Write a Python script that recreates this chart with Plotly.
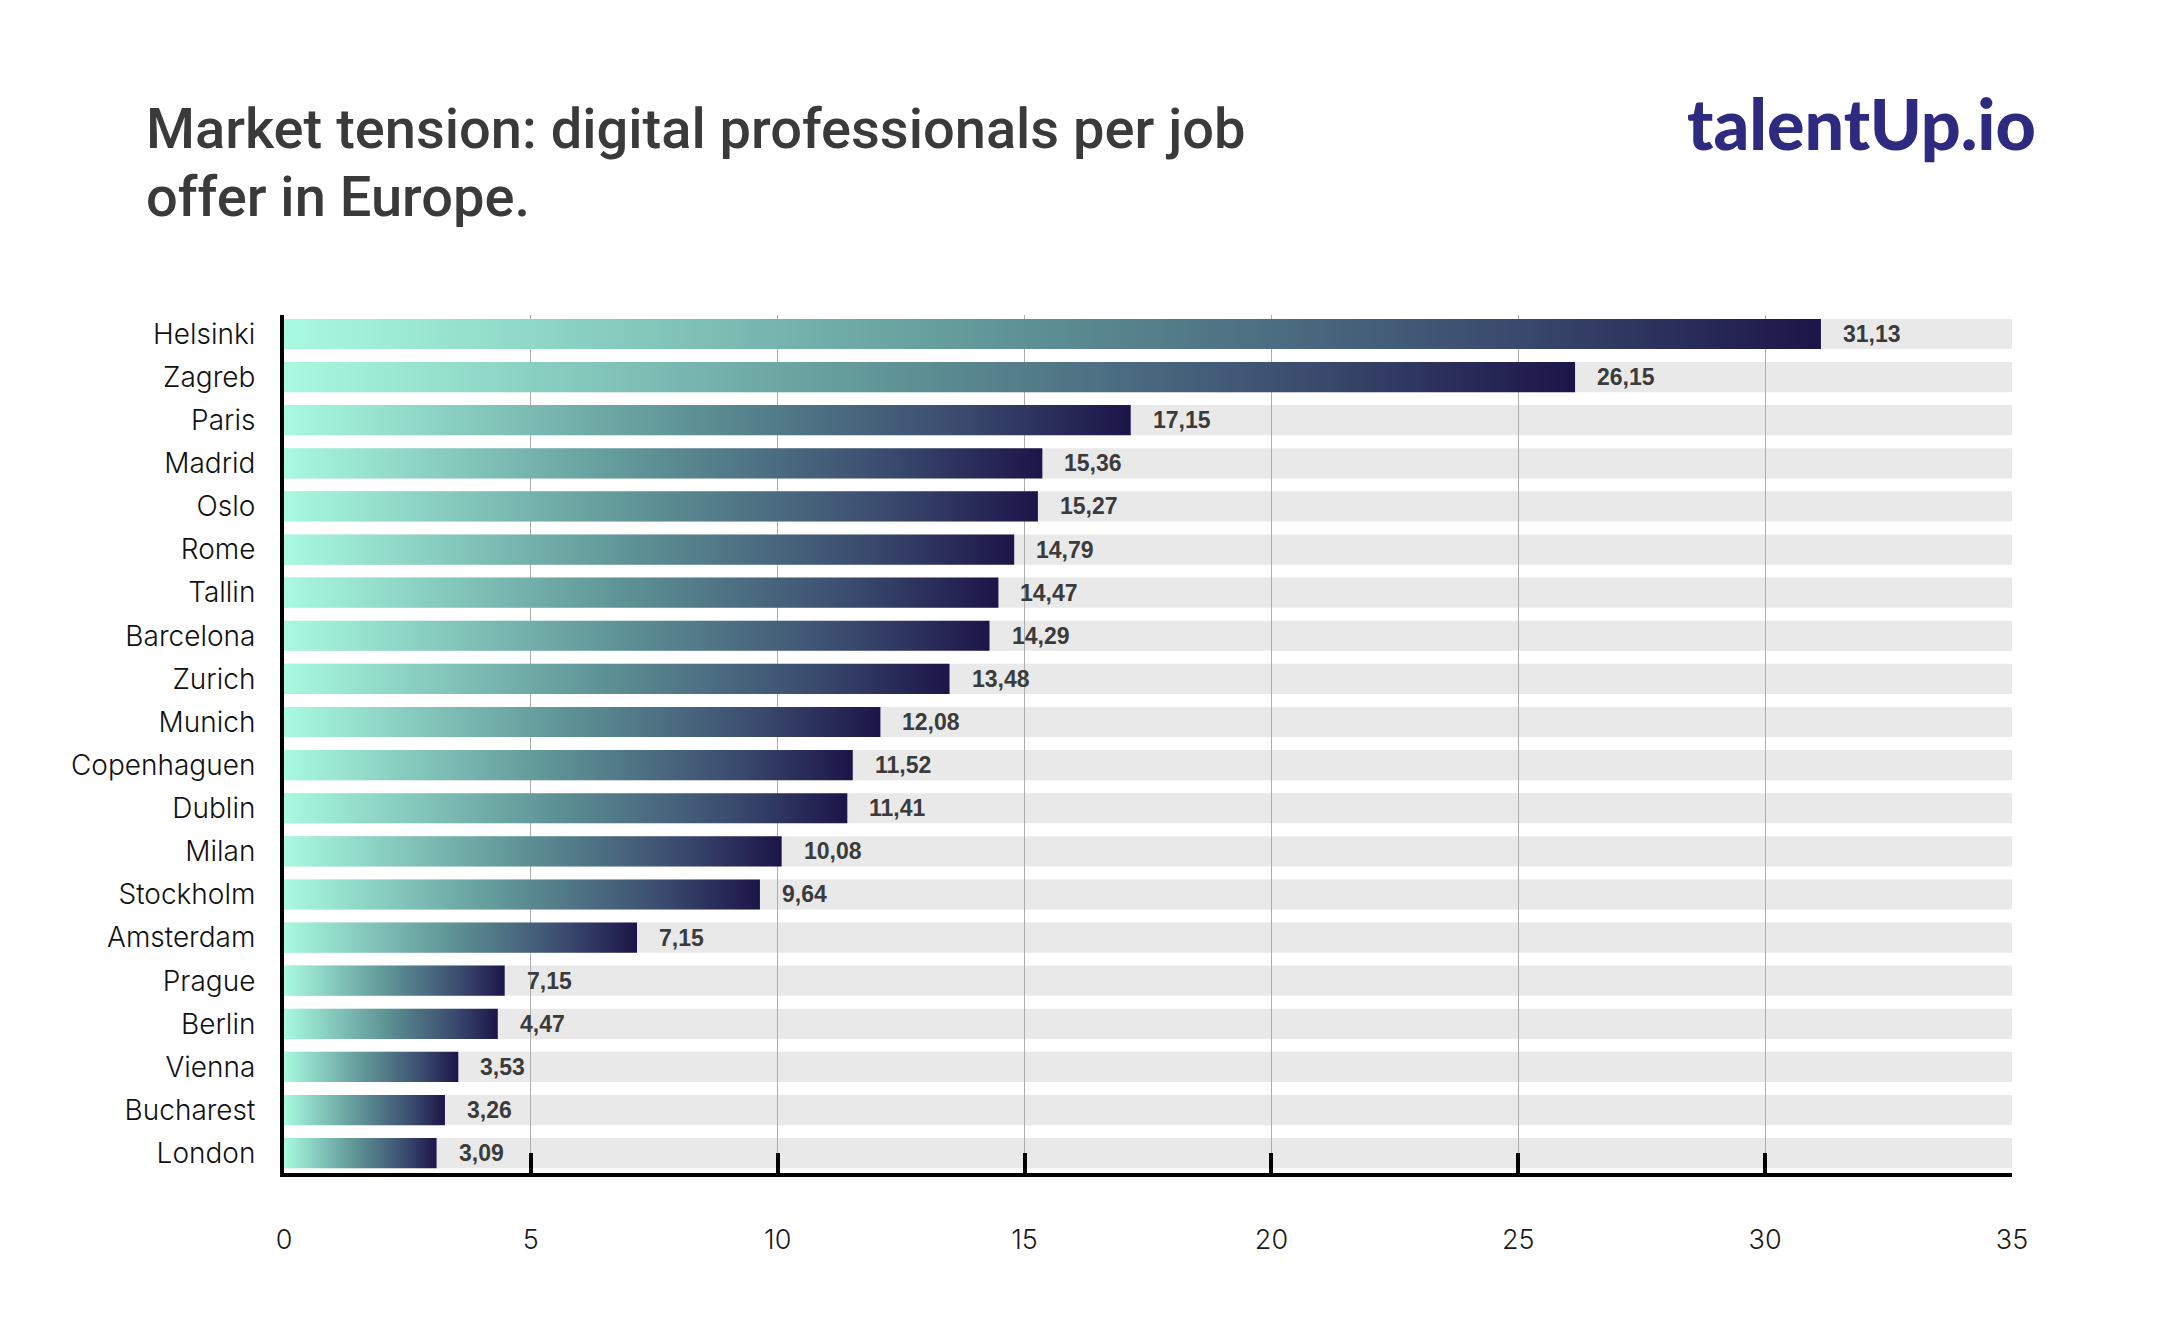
import plotly.graph_objects as go

# ---------------- data ----------------
cities = ["Helsinki", "Zagreb", "Paris", "Madrid", "Oslo", "Rome", "Tallin",
          "Barcelona", "Zurich", "Munich", "Copenhaguen", "Dublin", "Milan",
          "Stockholm", "Amsterdam", "Prague", "Berlin", "Vienna", "Bucharest",
          "London"]
bar_values = [31.13, 26.15, 17.15, 15.36, 15.27, 14.79, 14.47, 14.29, 13.48,
              12.08, 11.52, 11.41, 10.08, 9.64, 7.15, 4.47, 4.33, 3.53, 3.26,
              3.09]
value_labels = ["31,13", "26,15", "17,15", "15,36", "15,27", "14,79", "14,47",
                "14,29", "13,48", "12,08", "11,52", "11,41", "10,08", "9,64",
                "7,15", "7,15", "4,47", "3,53", "3,26", "3,09"]
x_ticks = [0, 5, 10, 15, 20, 25, 30, 35]
x_max = 35

title_lines = ["Market tension: digital professionals per job", "offer in Europe."]
logo_text = "talentUp.io"

# ---------------- layout constants ----------------
W, H = 2167, 1333
OFF = 8  # page body margin
L = 284 - OFF
T = 315 - OFF
R = W - (2012 - OFF)
B = H - (1173 - OFF)
plot_h = H - T - B
plot_w = W - L - R
half = 0.35
y_range = [len(cities) - 1 + 0.46, -0.44]


def py(px):
    """target pixel y (from top of screenshot) -> paper y"""
    return (H - B - (px - OFF)) / plot_h


def pxx(px):
    return (px - OFF - L) / plot_w


gradient = [[0.0, "#a8fae0"], [0.47, "#5f9496"], [0.8, "#3a4a6e"], [1.0, "#1c1548"]]

fig = go.Figure()

# gradient bars (one filled trace per bar, gradient normalised per bar)
for i, (c, v) in enumerate(zip(cities, bar_values)):
    fig.add_trace(go.Scatter(
        x=[0, v, v, 0, 0],
        y=[i - half, i - half, i + half, i + half, i - half],
        mode="none", fill="toself",
        fillgradient=dict(type="horizontal", colorscale=gradient),
        hoverinfo="skip", showlegend=False,
    ))

# grey row backgrounds (below gridlines)
shapes = []
for i, c in enumerate(cities):
    shapes.append(dict(type="rect", xref="x", yref="y", x0=0, x1=x_max,
                       y0=i - half, y1=i + half, fillcolor="#e9e9e9",
                       line=dict(width=0), layer="below"))

annotations = []
for i, (v, t) in enumerate(zip(bar_values, value_labels)):
    annotations.append(dict(x=v, y=i, xref="x", yref="y", text=t,
                            showarrow=False, xanchor="left", yanchor="middle",
                            xshift=20,
                            font=dict(family="Liberation Sans, Arial", size=23,
                                      color="#3b3b3b", weight="bold")))

title_font = dict(family="Roboto", size=56, color="#3a3a3a", weight=500)
for k, (line, base) in enumerate(zip(title_lines, [146, 214])):
    annotations.append(dict(x=pxx(144), y=py(base - 17), xref="paper", yref="paper",
                            text=line, showarrow=False, xanchor="left",
                            yanchor="middle", font=title_font))

annotations.append(dict(x=pxx(2038), y=py(123), xref="paper", yref="paper",
                        text=logo_text, showarrow=False, xanchor="right",
                        yanchor="middle",
                        font=dict(family="Lato, Open Sans", size=70,
                                  color="#2d2a80", weight=900)))

fig.update_layout(
    width=W, height=H,
    margin=dict(l=L, r=R, t=T, b=B, pad=0),
    paper_bgcolor="white", plot_bgcolor="white",
    shapes=shapes, annotations=annotations,
    showlegend=False,
    xaxis=dict(range=[0, x_max], tickvals=x_ticks,
               ticktext=[str(t) for t in x_ticks],
               showgrid=True, gridcolor="#acacac", gridwidth=1,
               zeroline=False, showline=True, linecolor="black", linewidth=4,
               ticks="inside", ticklen=20, tickwidth=4, tickcolor="black",
               ticklabelstandoff=40,
               tickfont=dict(family="Inter, Lato", size=27, color="#1a1a1a",
                             weight=300),
               fixedrange=True),
    yaxis=dict(range=y_range, tickvals=list(range(len(cities))),
               ticktext=cities, showgrid=False, zeroline=False,
               showline=True, linecolor="black", linewidth=4, ticks="",
               ticklabelstandoff=19,
               tickfont=dict(family="Inter, Lato", size=28, color="#111111",
                             weight=300),
               fixedrange=True),
)

fig.write_html("out.html")
